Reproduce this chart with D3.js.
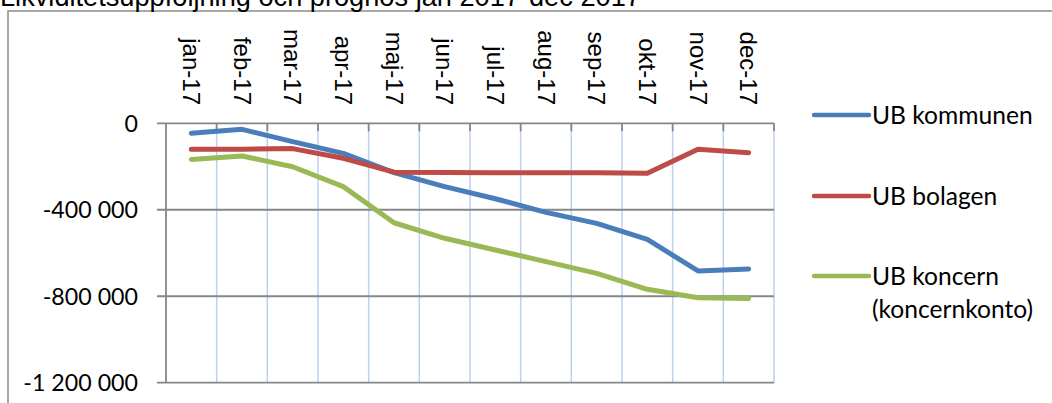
<!DOCTYPE html>
<html><head><meta charset="utf-8">
<script src="https://cdn.jsdelivr.net/npm/d3@7/dist/d3.min.js"></script>
<style>html,body{margin:0;padding:0;background:#fff;overflow:hidden}</style>
</head><body>
<svg id="chart" width="1052" height="403"></svg>
<script>
const title = "Likviditetsuppföljning och prognos jan 2017-dec 2017";
const categories = ["jan-17","feb-17","mar-17","apr-17","maj-17","jun-17","jul-17","aug-17","sep-17","okt-17","nov-17","dec-17"];
const seriesNames = ["UB kommunen","UB bolagen","UB koncern (koncernkonto)"];
const kommunen = [-46000,-28000,-85000,-139000,-228000,-293000,-349000,-412000,-463000,-537000,-683000,-674000];
const bolagen = [-120000,-120000,-117000,-162000,-226000,-228000,-229000,-229000,-229000,-231000,-120000,-136000];
const koncern = [-167000,-151000,-201000,-293000,-460000,-532000,-586000,-640000,-694000,-768000,-807000,-810000];
const yTicks = [0,-400000,-800000,-1200000];
const yTickLabels = ["0","-400 000","-800 000","-1 200 000"];
const colors = ["#4a7ebb","#be4b48","#98b954"];

const svg = d3.select("#chart");
const L = 166, R = 774, T = 123.3, B = 382.7;

// outer border
svg.append("rect").attr("x",8).attr("y",11).attr("width",1100).attr("height",500)
  .attr("fill","none").attr("stroke","#8c8c8c").attr("stroke-width",1.5);

svg.append("text").attr("x",0).attr("y",6)
  .attr("font-family","Liberation Sans, Arial, sans-serif").attr("font-size",27.2)
  .attr("fill","#000").text(title);

const x = d3.scaleBand().domain(categories).range([L,R]).padding(0);
const y = d3.scaleLinear().domain([-1200000,0]).range([B,T]);

// vertical gridlines at category boundaries
const bounds = categories.map(c => x(c) + x.bandwidth());
svg.append("g").selectAll("line").data(bounds).join("line")
  .attr("x1",d=>d).attr("x2",d=>d).attr("y1",T).attr("y2",B)
  .attr("stroke","#bcd0f0").attr("stroke-width",1.5);

// horizontal gridlines
svg.append("g").selectAll("line").data(yTicks).join("line")
  .attr("x1",L-9).attr("x2",R).attr("y1",d=>y(d)).attr("y2",d=>y(d))
  .attr("stroke","#868686").attr("stroke-width",1.8);

// y axis line
svg.append("line").attr("x1",L).attr("x2",L).attr("y1",T).attr("y2",B)
  .attr("stroke","#868686").attr("stroke-width",1.8);

// x axis ticks (at top axis, pointing down)
svg.append("g").selectAll("line").data(bounds).join("line")
  .attr("x1",d=>d).attr("x2",d=>d).attr("y1",T).attr("y2",T+8)
  .attr("stroke","#868686").attr("stroke-width",1.8);

// y labels
svg.append("g").selectAll("text").data(yTicks).join("text")
  .attr("x",138).attr("y",d=>y(d)).attr("dy","0.36em").attr("text-anchor","end")
  .attr("font-family","Lato, sans-serif").attr("font-size",23.2).attr("fill","#000")
  .text((d,i)=>yTickLabels[i]);

// x labels rotated
svg.append("g").selectAll("text").data(categories).join("text")
  .attr("transform",d=>`translate(${x(d)+x.bandwidth()/2},105) rotate(90)`)
  .attr("text-anchor","end").attr("dy","0.35em")
  .attr("font-family","Liberation Sans, Arial, sans-serif").attr("font-size",24).attr("fill","#000")
  .text(d=>d);

// lines
const allSeries = [kommunen, bolagen, koncern];
const line = d3.line().x((d,i)=>x(categories[i])+x.bandwidth()/2).y(d=>y(d));
svg.append("g").selectAll("path").data(allSeries).join("path")
  .attr("d",d=>line(d)).attr("fill","none")
  .attr("stroke",(d,i)=>colors[i]).attr("stroke-width",5)
  .attr("stroke-linejoin","round").attr("stroke-linecap","round");

// legend
const legY = [115, 196, 276];
const leg = svg.append("g").selectAll("g").data(seriesNames).join("g")
  .attr("transform",(d,i)=>`translate(0,${legY[i]})`);
leg.append("line").attr("x1",814).attr("x2",869).attr("y1",0).attr("y2",0)
  .attr("stroke",(d,i)=>colors[i]).attr("stroke-width",4.5).attr("stroke-linecap","round");
leg.append("text").attr("x",872).attr("y",0)
  .attr("font-family","Lato, sans-serif").attr("font-size",24.6).attr("fill","#000")
  .each(function(d){
    const parts = d === "UB koncern (koncernkonto)" ? ["UB koncern","(koncernkonto)"] : [d];
    d3.select(this).selectAll("tspan").data(parts).join("tspan")
      .attr("x",872).attr("dy",(p,j)=> j===0 ? "0.36em" : "33px").text(p=>p);
  });
</script>
</body></html>
